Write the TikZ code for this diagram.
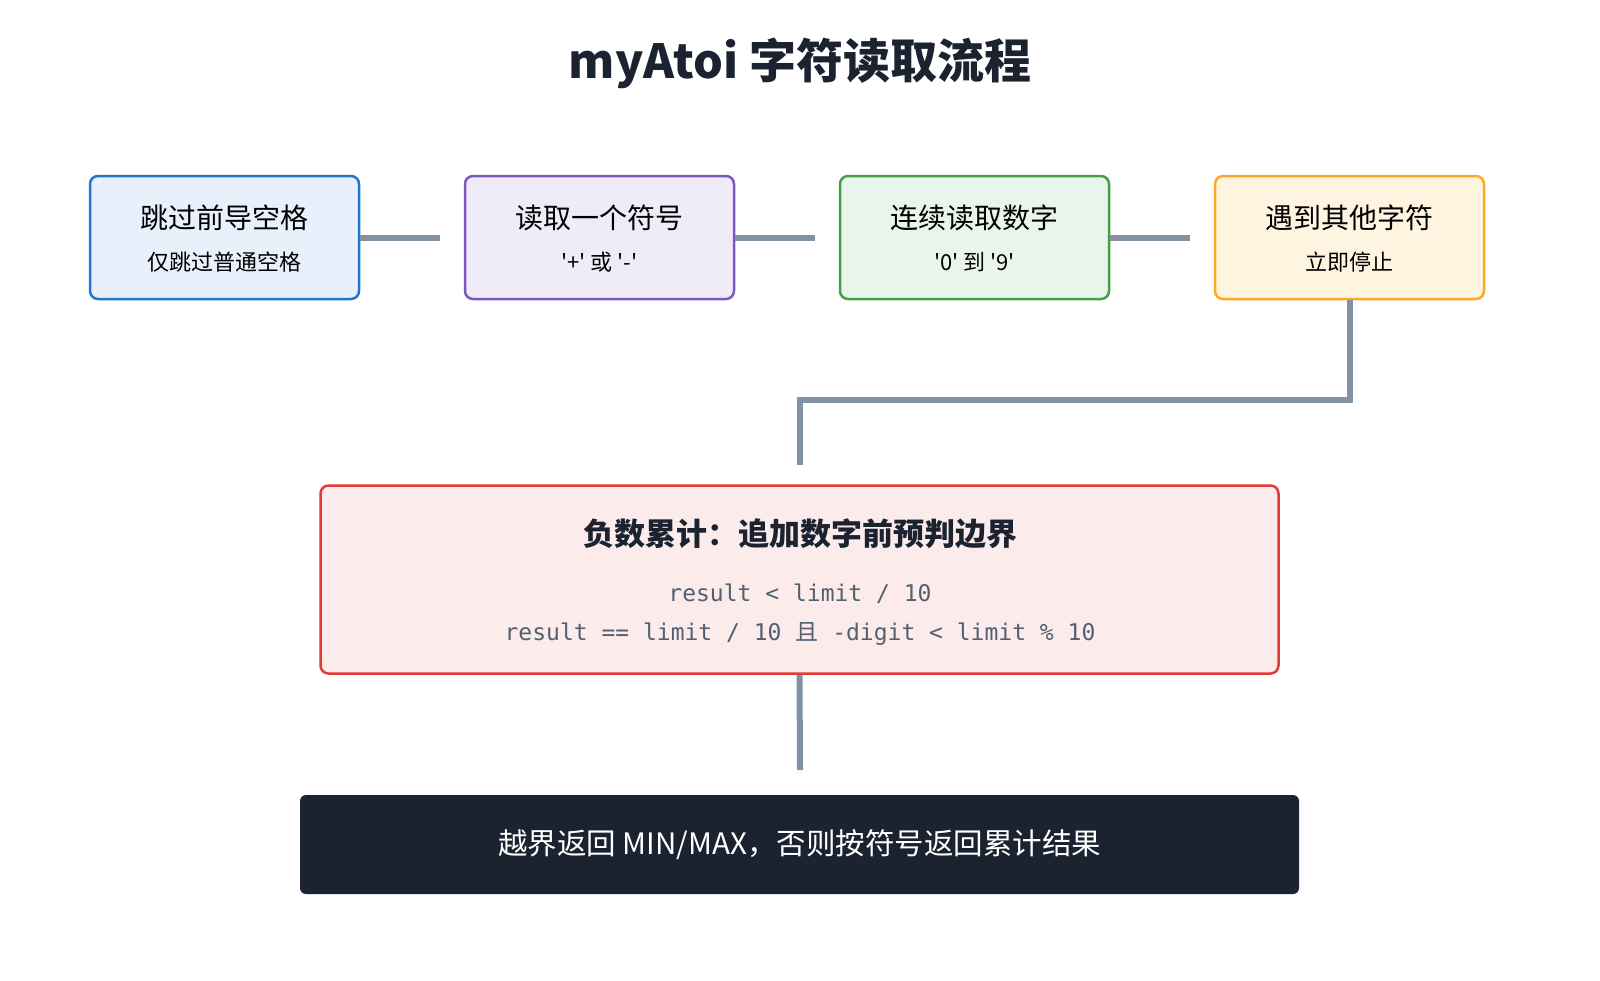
\documentclass[tikz,border=0pt]{standalone}
\usepackage{fontspec}
\setmainfont{Noto Sans CJK SC}
\setmonofont{DejaVu Sans Mono}
\newfontfamily\cjk{Noto Sans CJK SC}
\usetikzlibrary{positioning}

\definecolor{inkdark}{HTML}{1B2331}
\definecolor{linkgray}{HTML}{8292A2}
\definecolor{codegray}{HTML}{526071}
\definecolor{blueline}{HTML}{1E77D3}
\definecolor{bluefill}{HTML}{E8F0FB}
\definecolor{purpleline}{HTML}{7E57C2}
\definecolor{purplefill}{HTML}{EFEBF8}
\definecolor{greenline}{HTML}{43A047}
\definecolor{greenfill}{HTML}{E9F5EA}
\definecolor{orangeline}{HTML}{FFA726}
\definecolor{orangefill}{HTML}{FFF4E0}
\definecolor{redline}{HTML}{E53935}
\definecolor{redfill}{HTML}{FCEBEB}

\newcommand{\sq}{\textquotesingle}

\begin{document}
\begin{tikzpicture}[x=1pt,y=-1pt,
    stage/.style={draw, line width=2.5pt, rounded corners=8pt,
        minimum width=269pt, minimum height=123pt, inner sep=0pt},
    link/.style={draw=linkgray, line width=6pt},
    head/.style={font=\fontsize{28}{32}\selectfont, text=black},
    sub/.style={font=\fontsize{22}{26}\selectfont, text=black},
    code/.style={font=\ttfamily\fontsize{23}{26}\selectfont, text=codegray}]
    \useasboundingbox (0,0) rectangle (1600,980);

    \node[font=\bfseries\fontsize{47}{52}\selectfont, text=inkdark] (title) at (800,63) {myAtoi 字符读取流程};

    % top row
    \node[stage, draw=blueline, fill=bluefill] (skip) at (224.5,237.5) {};
    \node[stage, draw=purpleline, fill=purplefill] (sign) at (599.5,237.5) {};
    \node[stage, draw=greenline, fill=greenfill] (digits) at (974.5,237.5) {};
    \node[stage, draw=orangeline, fill=orangefill] (other) at (1349.5,237.5) {};

    \node[head] (skipT) at ([yshift=20pt]skip.center) {跳过前导空格};
    \node[sub] (skipS) at ([yshift=-25pt]skip.center) {仅跳过普通空格};
    \node[head] (signT) at ([yshift=20pt]sign.center) {读取一个符号};
    \node[sub] (signS) at ([yshift=-25pt]sign.center) {\sq+\sq{} 或 \sq-\sq};
    \node[head] (digitsT) at ([yshift=20pt]digits.center) {连续读取数字};
    \node[sub] (digitsS) at ([yshift=-25pt]digits.center) {\sq0\sq{} 到 \sq9\sq};
    \node[head] (otherT) at ([yshift=20pt]other.center) {遇到其他字符};
    \node[sub] (otherS) at ([yshift=-25pt]other.center) {立即停止};

    \coordinate (L1) at (440,237.5);
    \coordinate (L2) at (815,237.5);
    \coordinate (L3) at (1190,237.5);
    \draw[link] (skip.east) -- (L1);
    \draw[link] (sign.east) -- (L2);
    \draw[link] (digits.east) -- (L3);

    % check box
    \node[draw=redline, fill=redfill, line width=2.5pt, rounded corners=8pt,
        minimum width=958pt, minimum height=188pt] (check) at (799.5,579.5) {};
    \node[font=\bfseries\fontsize{31}{34}\selectfont, text=inkdark] (checkT) at (800,534) {负数累计：追加数字前预判边界};
    \node[code] (cond1) at (800,594) {result < limit / 10};
    \node[code] (cond2) at (800,634) {result == limit / 10 {\cjk 且} -digit < limit \% 10};

    \coordinate (bendA) at (1349.5,400);
    \coordinate (bendB) at (800,400);
    \coordinate (drop) at (800,465);
    \draw[link] (other.south) -- (bendA) -- (bendB) -- (drop);

    % result
    \node[fill=inkdark, rounded corners=6pt, minimum width=999pt, minimum height=99pt,
        text=white, font=\fontsize{29.5}{33}\selectfont] (result) at (799.5,844.5) {越界返回 MIN/MAX，否则按符号返回累计结果};
    \coordinate (stub) at (800,770);
    \draw[link] (check.south) -- (stub);

\end{tikzpicture}
\end{document}
